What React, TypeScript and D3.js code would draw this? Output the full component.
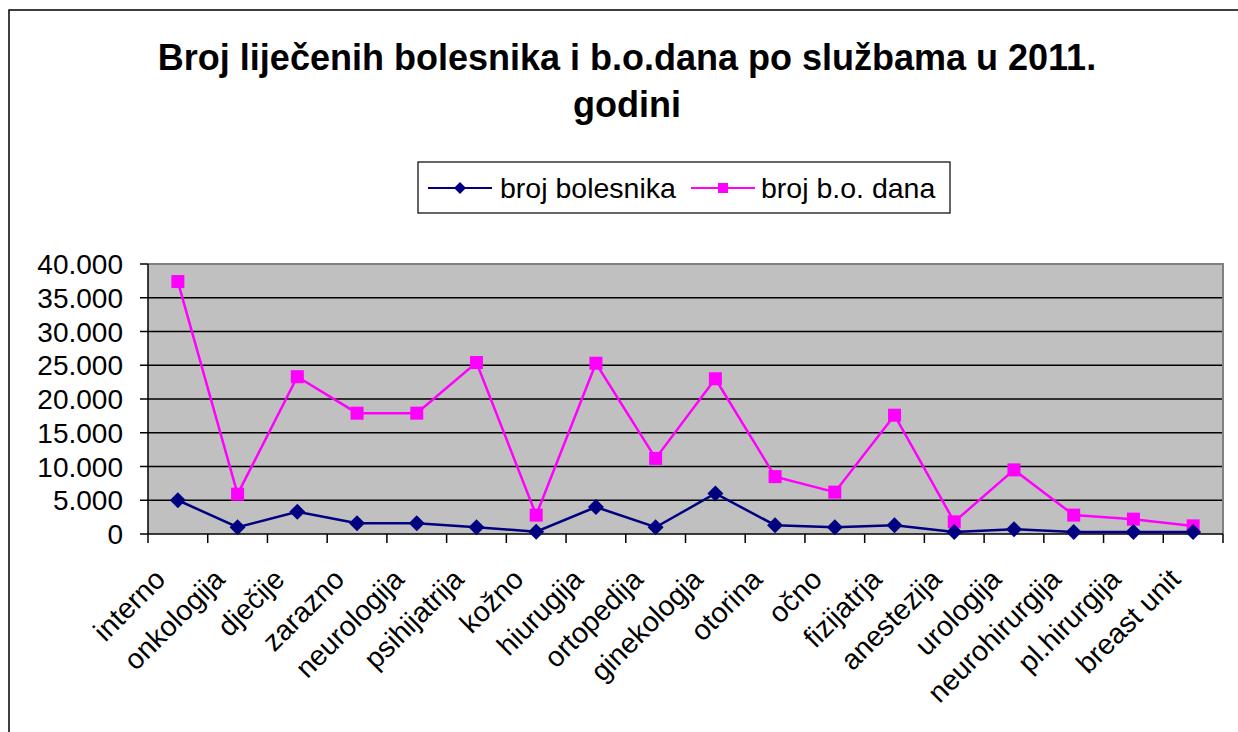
import React from "react";
import * as d3 from "d3";

const categories = [
  "interno", "onkologija", "dječije", "zarazno", "neurologija", "psihijatrija",
  "kožno", "hiurugija", "ortopedija", "ginekologja", "otorina", "očno",
  "fizijatrja", "anestezija", "urologija", "neurohirurgija", "pl.hirurgija", "breast unit",
];
const brojBolesnika = [
  5000, 1000, 3300, 1600, 1600, 1000, 350, 4000, 1000, 6000, 1300, 1000,
  1300, 300, 700, 300, 300, 300,
];
const brojBODana = [
  37400, 5900, 23300, 17900, 17900, 25400, 2800, 25300, 11200, 23000, 8500, 6200,
  17600, 1800, 9500, 2800, 2200, 1200,
];
const yTicks = [0, 5000, 10000, 15000, 20000, 25000, 30000, 35000, 40000];
const seriesNames = ["broj bolesnika", "broj b.o. dana"];
const titleLines = ["Broj liječenih bolesnika i b.o.dana po službama u 2011.", "godini"];

const W = 1238, H = 732;
const plot = { left: 148, right: 1223, top: 264, bottom: 534 };
const FONT = "'Liberation Sans', Arial, sans-serif";
const BLUE = "#000080";
const PINK = "#ff00ff";

const fmt = (v: number) => (v === 0 ? "0" : d3.format(",")(v).replace(/,/g, "."));

function Diamond({ x, y, r, color }: { x: number; y: number; r: number; color: string }) {
  return <path d={`M${x},${y - r}L${x + r},${y}L${x},${y + r}L${x - r},${y}Z`} fill={color} />;
}
function Square({ x, y, s, color }: { x: number; y: number; s: number; color: string }) {
  return <rect x={x - s / 2} y={y - s / 2} width={s} height={s} fill={color} />;
}

export default function App() {
  const x = d3.scaleBand<string>().domain(categories).range([plot.left, plot.right]);
  const y = d3.scaleLinear().domain([0, 40000]).range([plot.bottom, plot.top]);
  const cx = (c: string) => (x(c) as number) + x.bandwidth() / 2;
  const line = d3
    .line<number>()
    .x((_, i) => cx(categories[i]))
    .y((d) => y(d));

  const boundaries = categories.map((c) => x(c) as number).concat([plot.right]);

  return (
    <svg
      width={W}
      height={H}
      style={{ position: "absolute", left: 0, top: 0, background: "#fff" }}
      fontFamily={FONT}
    >
      <rect x={9} y={10} width={1300} height={800} fill="#fff" stroke="#000" strokeWidth={1.5} />

      {/* title */}
      {titleLines.map((t, i) => (
        <text key={i} x={627} y={70 + i * 47} textAnchor="middle" fontSize={36} fontWeight="bold" fill="#000">
          {t}
        </text>
      ))}

      {/* legend */}
      <rect x={418} y={162} width={532} height={51} fill="#fff" stroke="#000" strokeWidth={1.2} />
      <line x1={428} x2={492} y1={188} y2={188} stroke={BLUE} strokeWidth={2} />
      <Diamond x={460} y={188} r={6} color={BLUE} />
      <text x={500} y={198} fontSize={28.5} fill="#000">{seriesNames[0]}</text>
      <line x1={691} x2={755} y1={188} y2={188} stroke={PINK} strokeWidth={2} />
      <Square x={723} y={188} s={10} color={PINK} />
      <text x={761} y={198} fontSize={28.5} fill="#000">{seriesNames[1]}</text>

      {/* plot area */}
      <rect x={plot.left} y={plot.top} width={plot.right - plot.left} height={plot.bottom - plot.top} fill="#c0c0c0" />
      {yTicks.filter((t) => t > 0 && t < 40000).map((t) => (
        <line key={t} x1={plot.left} x2={plot.right} y1={y(t)} y2={y(t)} stroke="#000" strokeWidth={1.5} />
      ))}
      <path
        d={`M${plot.left},${plot.top}H${plot.right}V${plot.bottom}`}
        fill="none"
        stroke="#808080"
        strokeWidth={2}
      />
      {/* axes */}
      <line x1={plot.left} x2={plot.left} y1={plot.top} y2={plot.bottom} stroke="#000" strokeWidth={1.5} />
      <line x1={plot.left} x2={plot.right} y1={plot.bottom} y2={plot.bottom} stroke="#000" strokeWidth={1.5} />
      {yTicks.map((t) => (
        <g key={t}>
          <line x1={140} x2={plot.left} y1={y(t)} y2={y(t)} stroke="#000" strokeWidth={1.5} />
          <text x={123} y={y(t)} dy="0.36em" textAnchor="end" fontSize={28} fill="#000">
            {fmt(t)}
          </text>
        </g>
      ))}
      {boundaries.map((b, i) => (
        <line key={i} x1={b} x2={b} y1={plot.bottom} y2={plot.bottom + 9} stroke="#000" strokeWidth={1.5} />
      ))}
      {categories.map((c) => (
        <text
          key={c}
          transform={`translate(${cx(c) - 11},${581}) rotate(-45)`}
          textAnchor="end"
          fontSize={28.5}
          fill="#000"
        >
          {c}
        </text>
      ))}

      {/* series */}
      <path d={line(brojBODana) || ""} fill="none" stroke={PINK} strokeWidth={2.5} />
      {brojBODana.map((v, i) => (
        <Square key={i} x={cx(categories[i])} y={y(v)} s={13} color={PINK} />
      ))}
      <path d={line(brojBolesnika) || ""} fill="none" stroke={BLUE} strokeWidth={2.5} />
      {brojBolesnika.map((v, i) => (
        <Diamond key={i} x={cx(categories[i])} y={y(v)} r={8} color={BLUE} />
      ))}
    </svg>
  );
}
